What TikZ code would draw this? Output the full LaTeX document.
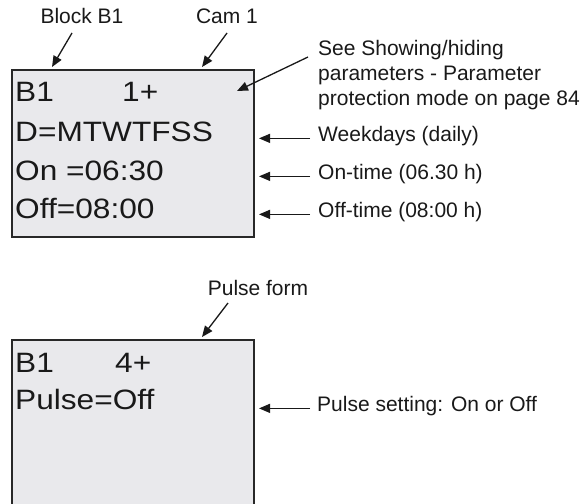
\documentclass[tikz,border=0pt]{standalone}
\usepackage{fontspec}
\setmainfont{Liberation Sans}
\newfontfamily\lcdfamily[FakeStretch=1.13]{Liberation Sans}
\usetikzlibrary{arrows.meta,positioning}
\definecolor{lcdColor}{RGB}{233,233,236}
\definecolor{frameColor}{RGB}{40,40,40}
\definecolor{arrowColor}{RGB}{25,25,25}
\newcommand{\notefont}{\fontsize{21}{25}\selectfont}
\newcommand{\lcdfont}{\lcdfamily\fontsize{28}{38}\selectfont}

\begin{document}
\begin{tikzpicture}[x=1pt, y=-1pt,
    lcd/.style={draw=frameColor, line width=2pt, fill=lcdColor, minimum width=242pt, inner sep=0pt, anchor=north west},
    row/.style={anchor=base west, inner sep=0pt, font=\lcdfont, text=arrowColor},
    note/.style={anchor=base west, inner sep=0pt, font=\notefont, text=arrowColor, align=left},
    arr/.style={-{Triangle[length=11pt,width=9pt]}, line width=1.3pt, arrowColor}
  ]
  \useasboundingbox (0,0) rectangle (585,503);

  \node[lcd, minimum height=167pt] (disp1) at (11,69) {};
  \node[row] (b1a) at (15,101) {B1};
  \node[row] (cama) at (122,101) {1+};
  \node[row] (days) at (15,141) {D=MTWTFSS};
  \node[row] (on) at (15,180) {On =06:30};
  \node[row] (off) at (15,218) {Off=08:00};

  \node[note, anchor=base] (blk) at (82,24) {Block B1};
  \node[note, anchor=base] (cam) at (227,24) {Cam 1};
  \node[note, anchor=north west] (see) at (318,40) {See Showing/hiding\\parameters - Parameter\\protection mode on page 84};
  \node[note] (wk) at (318,141) {Weekdays (daily)};
  \node[note] (ont) at (318,179) {On-time (06.30 h)};
  \node[note] (offt) at (318,217) {Off-time (08:00 h)};

  \draw[arr] ([xshift=-10pt,yshift=-9pt]blk.base) -- ([xshift=41pt,yshift=2pt]disp1.north west);
  \draw[arr] ([yshift=-9pt]cam.base) -- ([xshift=191pt,yshift=2pt]disp1.north west);
  \draw[arr] ([shift={(-10pt,-17pt)}]see.north west) -- ([shift={(-18pt,-22pt)}]disp1.north east);
  \draw[arr] ([xshift=-8pt]wk.mid west) -- ([xshift=4pt]wk.mid west -| disp1.east);
  \draw[arr] ([xshift=-8pt]ont.mid west) -- ([xshift=4pt]ont.mid west -| disp1.east);
  \draw[arr] ([xshift=-8pt]offt.mid west) -- ([xshift=4pt]offt.mid west -| disp1.east);

  \node[lcd, minimum height=300pt] (disp2) at (11,339) {};
  \node[row] (b1b) at (15,372) {B1};
  \node[row] (camb) at (115,372) {4+};
  \node[row] (pulse) at (15,409) {Pulse=Off};

  \node[note, anchor=base] (pform) at (258,295) {Pulse form};
  \node[note] (pset) at (317,411) {Pulse setting: On or Off};

  \draw[arr] ([xshift=-30pt,yshift=-8pt]pform.base) -- ([xshift=191pt,yshift=2pt]disp2.north west);
  \draw[arr] ([xshift=-7pt]pset.mid west) -- ([xshift=4pt]pset.mid west -| disp2.east);
\end{tikzpicture}
\end{document}
